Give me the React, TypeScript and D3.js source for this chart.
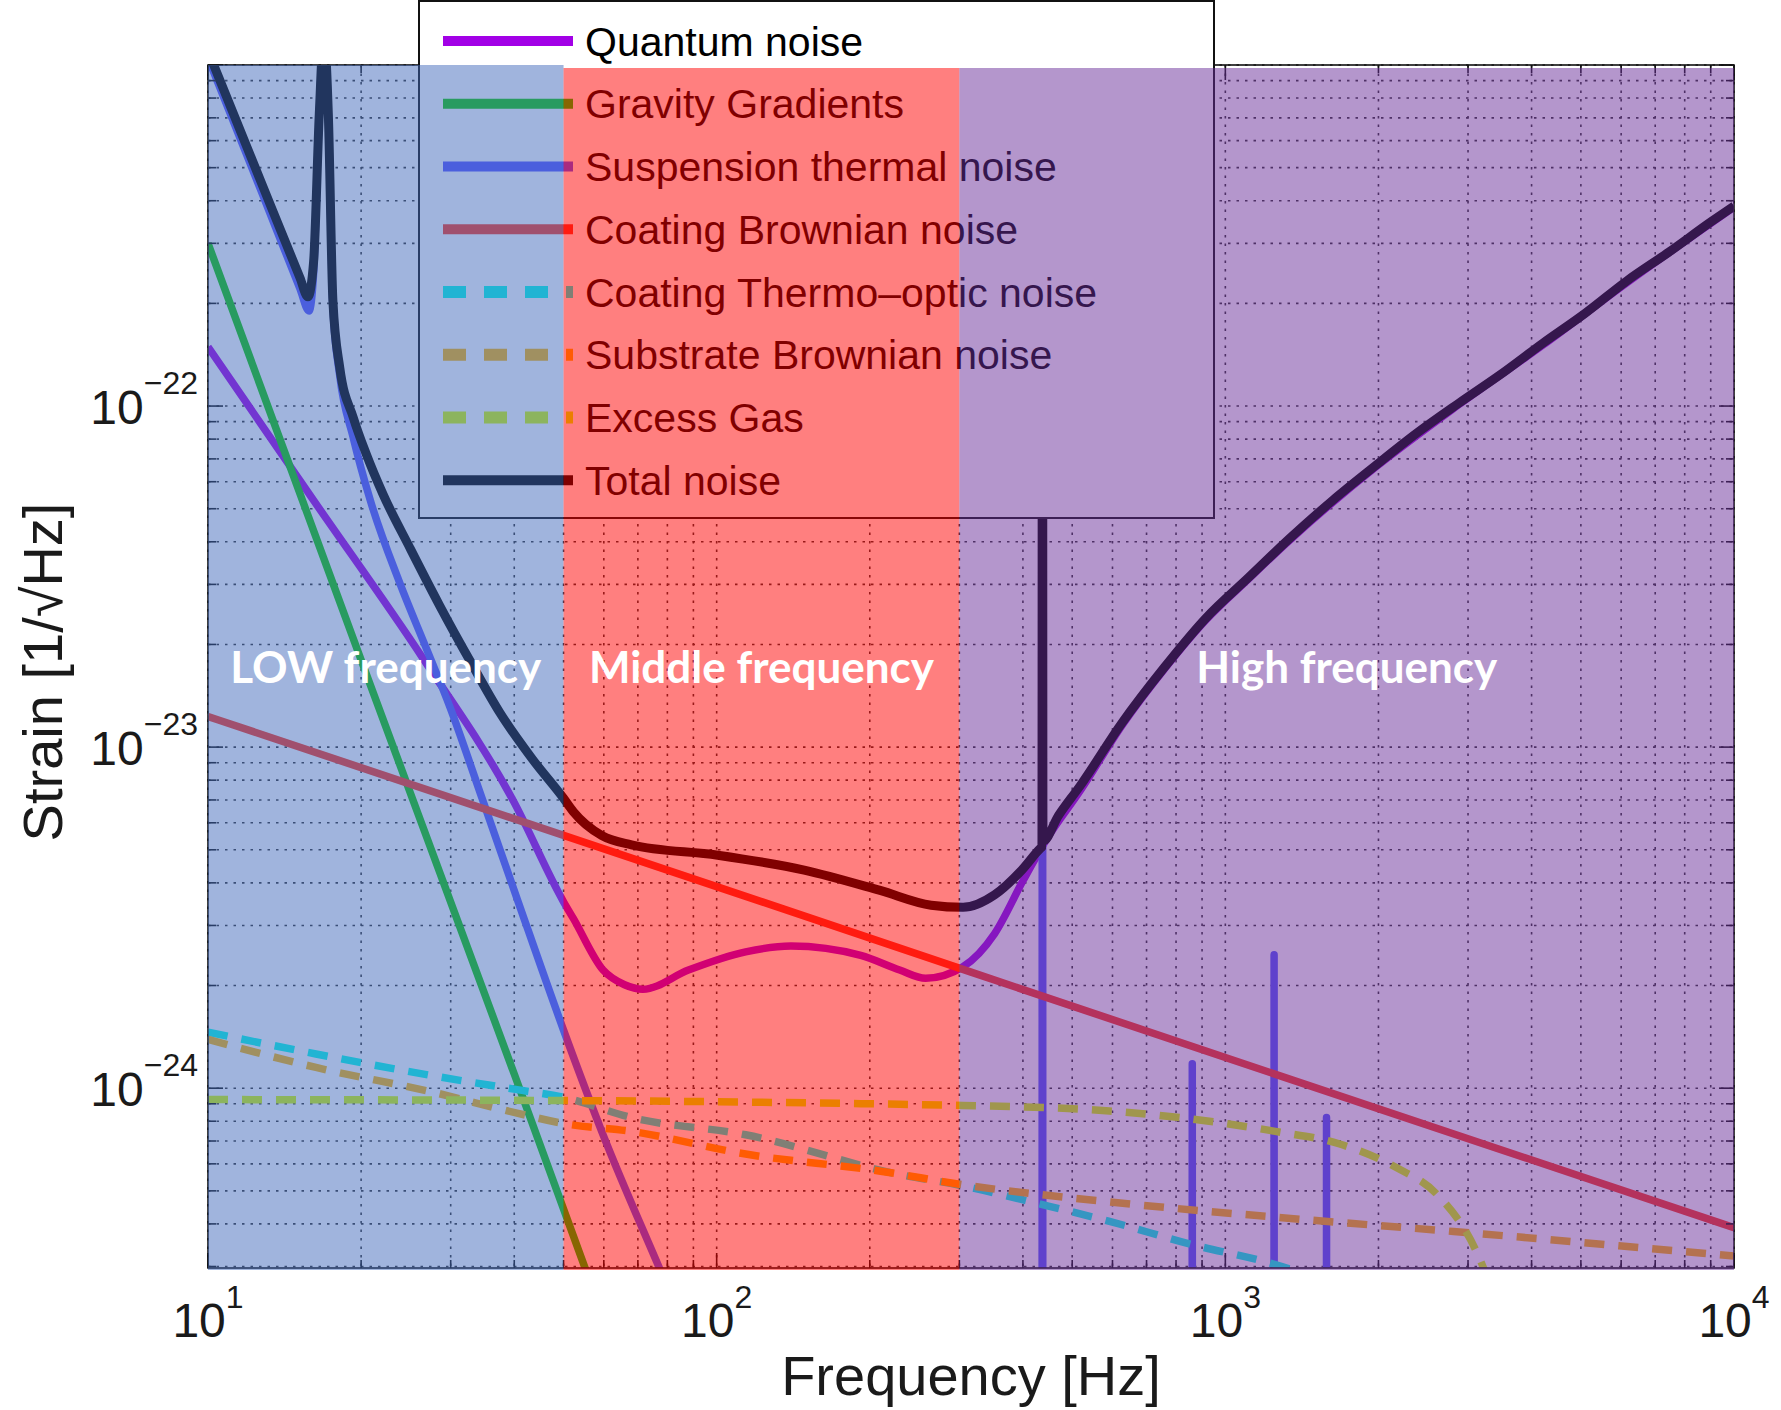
import React from 'react'
import * as d3 from 'd3'

type Pt = [number, number]

// axis ranges and labels
const freqDomain: [number, number] = [10, 10000]
const strainDomain: [number, number] = [2.97e-25, 1e-21]
const xExponents = [1, 2, 3, 4]
const yExponents = [-22, -23, -24]

// frequency bands drawn as coloured panels
const bandEdges = [10, 50, 300, 10000]
const bandNames = ['LOW frequency', 'Middle frequency', 'High frequency']
const bandColors = ['#4169bb', '#ff0000', '#692d99']

// noise curves, [Hz, 1/sqrt(Hz)]
const quantumNoise: Pt[] = [
  [10, 1.49e-22], [16.13, 5.29e-23], [26.4, 1.83e-23], [39.8, 6.97e-24], [50, 3.52e-24],
  [52.3, 3.14e-24], [59.8, 2.22e-24], [65.9, 2.01e-24], [71.6, 1.95e-24], [88, 2.22e-24],
  [114, 2.51e-24], [140, 2.61e-24], [192, 2.45e-24], [229, 2.22e-24], [257.5, 2.1e-24],
  [305, 2.27e-24], [352, 2.84e-24], [400.6, 4.07e-24], [444, 5.33e-24], [520, 7.5e-24],
  [627, 1.16e-23], [758, 1.69e-23], [916, 2.36e-23], [1108, 3.1e-23], [1340, 4.05e-23],
  [1969, 6.6e-23], [2879, 1.01e-22], [4212, 1.51e-22], [6160, 2.3e-22], [10000, 3.83e-22],
]
const gravityGradients: Pt[] = [
  [10, 3.0e-22], [20, 1.8e-23], [40, 1.1e-24], [60, 2.1e-25],
]
const suspensionThermal: Pt[] = [
  [10, 1.05e-21], [12.73, 4.26e-22], [15.16, 2.21e-22], [15.8, 1.9e-22], [16.13, 2.45e-22],
  [16.55, 7.2e-22], [16.89, 1.23e-21], [17.24, 7.2e-22], [17.6, 1.95e-22], [18.15, 1.23e-22],
  [19.3, 8.07e-23], [20.85, 5.29e-23], [23.84, 3.02e-23], [26.97, 1.92e-23], [29.9, 1.31e-23],
  [34.7, 6.97e-24], [40.5, 3.6e-24], [50, 1.48e-24], [59.8, 7.3e-25], [77.3, 2.95e-25],
  [100, 1.2e-25], [200, 3e-26], [436, 1e-26], [437, 1e-21], [438, 1e-26],
  [860, 1e-26], [861, 1.18e-24], [862, 1e-26], [1246, 1e-26], [1247, 2.46e-24], [1248, 1e-26],
  [1580, 1e-26], [1581, 8.2e-25], [1582, 1e-26], [10000, 1e-26],
]
const coatingBrownian: Pt[] = [
  [10, 1.23e-23], [100, 3.9e-24], [1000, 1.23e-24], [10000, 3.9e-25],
]
const coatingThermoOptic: Pt[] = [
  [10, 1.46e-24], [16.3, 1.26e-24], [27.4, 1.09e-24], [40.5, 9.9e-25], [50, 9.4e-25],
  [68, 8.2e-25], [114, 7.3e-25], [229, 5.58e-25], [305, 5.17e-25], [433, 4.57e-25],
  [592, 4.07e-25], [853, 3.49e-25], [1254, 3.04e-25], [1600, 2.7e-25],
]
const substrateBrownian: Pt[] = [
  [10, 1.39e-24], [16.3, 1.15e-24], [27.4, 9.77e-25], [40.5, 8.45e-25], [50, 7.88e-25],
  [68, 7.47e-25], [114, 6.41e-25], [210, 5.71e-25], [305, 5.21e-25], [592, 4.64e-25],
  [1293, 4.17e-25], [2810, 3.8e-25], [10000, 3.22e-25],
]
const excessGas: Pt[] = [
  [10, 9.26e-25], [50, 9.2e-25], [229, 8.97e-25], [305, 8.9e-25], [592, 8.57e-25],
  [853, 8.13e-25], [1254, 7.47e-25], [1672, 6.87e-25], [2173, 5.84e-25], [2601, 4.9e-25],
  [3113, 3.33e-25], [3400, 2.4e-25],
]
const totalNoise: Pt[] = [
  [10, 1.1e-21], [12.73, 4.52e-22], [15.16, 2.38e-22], [15.72, 2.09e-22], [16.13, 2.65e-22],
  [16.55, 7.2e-22], [16.89, 1.23e-21], [17.24, 7.2e-22], [17.6, 2.04e-22], [18.15, 1.3e-22],
  [19.3, 9.26e-23], [20.5, 7.19e-23], [22.1, 5.5e-23], [24.96, 3.83e-23], [28.5, 2.61e-23],
  [33.1, 1.74e-23], [37.5, 1.26e-23], [43.5, 9.19e-24], [50, 7.08e-24], [52.3, 6.46e-24],
  [59.5, 5.5e-24], [68, 5.17e-24], [100.5, 4.82e-24], [148.6, 4.36e-24], [209.6, 3.8e-24],
  [264, 3.44e-24], [305, 3.39e-24], [352, 3.69e-24], [398, 4.36e-24], [433, 5.05e-24],
  [436, 5.1e-24], [437, 2e-21], [438, 5.3e-24], [470, 6.3e-24], [518, 7.69e-24],
  [627, 1.18e-23], [758, 1.71e-23], [916, 2.39e-23], [1108, 3.13e-23], [1340, 4.1e-23],
  [1628, 5.3e-23], [1969, 6.67e-23], [2382, 8.34e-23], [2879, 1.02e-22], [3483, 1.24e-22],
  [4212, 1.53e-22], [5095, 1.87e-22], [6160, 2.33e-22], [7452, 2.83e-22], [9013, 3.47e-22],
  [10000, 3.86e-22],
]

const series = [
  { name: 'Quantum noise', data: quantumNoise, color: '#a200e6', dashed: false },
  { name: 'Gravity Gradients', data: gravityGradients, color: '#0fcd05', dashed: false },
  { name: 'Suspension thermal noise', data: suspensionThermal, color: '#5555ff', dashed: false },
  { name: 'Coating Brownian noise', data: coatingBrownian, color: '#ff3720', dashed: false },
  { name: 'Coating Thermo\u2013optic noise', data: coatingThermoOptic, color: '#00ffeb', dashed: true },
  { name: 'Substrate Brownian noise', data: substrateBrownian, color: '#ffb707', dashed: true },
  { name: 'Excess Gas', data: excessGas, color: '#d7ff00', dashed: true },
  { name: 'Total noise', data: totalNoise, color: '#000000', dashed: false },
]

const W = 1781
const H = 1410
const left = 208
const right = 1734
const top = 65
const bottom = 1268
const FONT = "'Liberation Sans', Arial, Helvetica, sans-serif"

export default function App() {
  const x = d3.scaleLog().domain(freqDomain).range([left, right])
  const y = d3.scaleLog().domain(strainDomain).range([bottom, top])

  const line = d3.line<Pt>()
    .x((d) => x(d[0]))
    .y((d) => y(d[1]))
    .curve(d3.curveMonotoneX)

  const xTicks = x.ticks()
  const yTicks = d3.scaleLog().domain([1e-25, 1e-21]).ticks().filter((v) => v >= strainDomain[0] * 0.999)
  const isMajor = (v: number) => Math.abs(Math.log10(v) - Math.round(Math.log10(v))) < 1e-6

  // legend box
  const lg = { x0: 419, y0: 1, x1: 1214, y1: 518 }
  const rowY = (i: number) => 41 + 62.75 * i

  return (
    <svg width={W} height={H} style={{ position: 'absolute', left: 0, top: 0, background: '#fff' }}>
      <defs>
        <clipPath id="plotClip">
          <rect x={left} y={top} width={right - left} height={bottom - top} />
        </clipPath>
      </defs>

      {/* grid */}
      <g stroke="#000" strokeWidth={1.6} strokeDasharray="2.5,6" opacity={0.8}>
        {xTicks.map((v, i) => (
          <line key={'gx' + i} x1={x(v)} x2={x(v)} y1={top} y2={bottom} />
        ))}
        {yTicks.map((v, i) => (
          <line key={'gy' + i} x1={left} x2={right} y1={y(v)} y2={y(v)} />
        ))}
      </g>

      {/* curves */}
      <g clipPath="url(#plotClip)" fill="none" strokeLinejoin="round">
        {series.map((s) => (
          <path
            key={s.name}
            d={line(s.data) || ''}
            stroke={s.color}
            strokeWidth={s.name === 'Total noise' ? 9 : 7.5}
            strokeDasharray={s.dashed ? '20,14' : undefined}
          />
        ))}
      </g>

      {/* frame and inward ticks */}
      <g stroke="#111" strokeWidth={1.6}>
        <rect x={left} y={top} width={right - left} height={bottom - top} fill="none" />
        {xTicks.map((v, i) => {
          const len = isMajor(v) ? 15 : 8
          return (
            <g key={'tx' + i}>
              <line x1={x(v)} x2={x(v)} y1={bottom} y2={bottom - len} />
              <line x1={x(v)} x2={x(v)} y1={top} y2={top + len} />
            </g>
          )
        })}
        {yTicks.map((v, i) => {
          const len = isMajor(v) ? 15 : 8
          return (
            <g key={'ty' + i}>
              <line x1={left} x2={left + len} y1={y(v)} y2={y(v)} />
              <line x1={right} x2={right - len} y1={y(v)} y2={y(v)} />
            </g>
          )
        })}
      </g>

      {/* legend */}
      <g>
        <rect x={lg.x0} y={lg.y0} width={lg.x1 - lg.x0} height={lg.y1 - lg.y0} fill="#fff" stroke="#111" strokeWidth={2} />
        {series.map((s, i) => (
          <g key={'lg' + s.name}>
            <line
              x1={443}
              x2={573}
              y1={rowY(i)}
              y2={rowY(i)}
              stroke={s.color}
              strokeWidth={s.dashed ? 12 : 10}
              strokeDasharray={s.dashed ? '23,18' : undefined}
            />
            <text x={585} y={rowY(i) + 14.5} fontFamily={FONT} fontSize={41} fill="#000">
              {s.name}
            </text>
          </g>
        ))}
      </g>

      {/* frequency band panels */}
      <g>
        {bandNames.map((n, i) => (
          <rect
            key={'band' + i}
            x={x(bandEdges[i])}
            y={i === 0 ? top : top + 3}
            width={x(bandEdges[i + 1]) - x(bandEdges[i])}
            height={bottom + 2 - (i === 0 ? top : top + 3)}
            fill={bandColors[i]}
            fillOpacity={0.5}
          />
        ))}
        {bandNames.map((n, i) => (
          <text
            key={'bandLabel' + i}
            x={(x(bandEdges[i]) + x(bandEdges[i + 1])) / 2}
            y={683}
            textAnchor="middle"
            fontFamily="Lato, 'Open Sans', sans-serif"
            fontWeight={700}
            fontSize={44}
            fill="#fff"
          >
            {n}
          </text>
        ))}
      </g>

      {/* tick labels */}
      <g fontFamily={FONT} fill="#1a1a1a">
        {xExponents.map((e) => (
          <text key={'xl' + e} x={x(Math.pow(10, e))} y={1337} textAnchor="middle" fontSize={48}>
            10<tspan dy={-29} fontSize={32}>{e}</tspan>
          </text>
        ))}
        {yExponents.map((e) => (
          <text key={'yl' + e} x={198} y={y(Math.pow(10, e)) + 18} textAnchor="end" fontSize={48}>
            10<tspan dy={-30} fontSize={32}>{'\u2212' + Math.abs(e)}</tspan>
          </text>
        ))}
        <text x={(left + right) / 2} y={1395} textAnchor="middle" fontSize={56}>
          Frequency [Hz]
        </text>
        <text transform="translate(62,672) rotate(-90)" textAnchor="middle" fontSize={56}>
          Strain [1/√Hz]
        </text>
      </g>
    </svg>
  )
}
